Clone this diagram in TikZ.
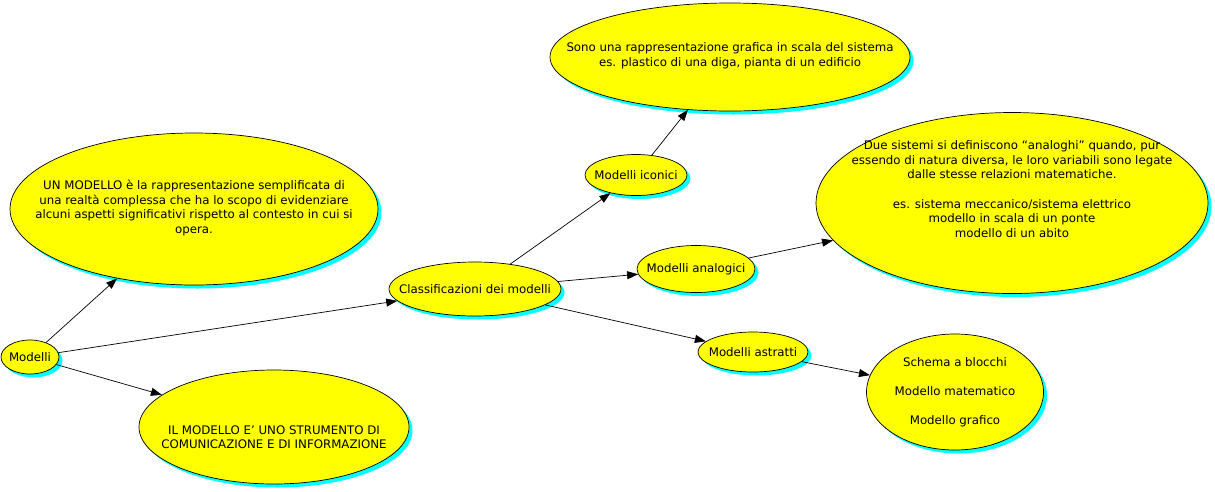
\documentclass[tikz,border=0pt]{standalone}
\usepackage{fontspec}
\setmainfont{DejaVu Sans}
\usetikzlibrary{shapes.geometric,shadows,arrows.meta}
\definecolor{ybub}{RGB}{255,255,0}
\definecolor{cshad}{RGB}{0,255,255}
\begin{document}
\begin{tikzpicture}[x=1pt,y=-1pt,
  bub/.style={ellipse, draw=black, line width=0.7pt, fill=ybub, inner sep=0pt,
    drop shadow={fill=cshad, opacity=1, shadow xshift=3.5pt, shadow yshift=-3.5pt}},
  txt/.style={align=center, inner sep=0pt, font=\fontsize{11.8}{14.6}\selectfont},
  conn/.style={-{Triangle[length=11pt,width=8pt]}, line width=0.7pt}]
\useasboundingbox (0,0) rectangle (1215,491);

\node[bub, minimum width=58pt, minimum height=34pt, label={[txt]center:Modelli}] (mod) at (30,357) {};
\node[bub, minimum width=368pt, minimum height=152pt,
  label={[txt, yshift=1pt]center:{UN MODELLO è la rappresentazione semplificata di\\una realtà complessa che ha lo scopo di evidenziare\\alcuni aspetti significativi rispetto al contesto in cui si\\opera.}}] (un) at (194,209) {};
\node[bub, minimum width=270pt, minimum height=114pt,
  label={[txt, yshift=-10pt]center:{IL MODELLO E’ UNO STRUMENTO DI\\COMUNICAZIONE E DI INFORMAZIONE}}] (il) at (274,427) {};
\node[bub, minimum width=172pt, minimum height=54pt, label={[txt]center:Classificazioni dei modelli}] (cl) at (475,289) {};
\node[bub, minimum width=102pt, minimum height=41pt, label={[txt]center:Modelli iconici}] (ic) at (636,175) {};
\node[bub, minimum width=360pt, minimum height=108pt,
  label={[txt, yshift=1.5pt]center:{Sono una rappresentazione grafica in scala del sistema\\es. plastico di una diga, pianta di un edificio}}] (so) at (730,57) {};
\node[bub, minimum width=118pt, minimum height=47pt, label={[txt]center:Modelli analogici}] (an) at (696,269) {};
\node[bub, minimum width=392pt, minimum height=181pt,
  label={[txt, yshift=14pt]center:{Due sistemi si definiscono “analoghi” quando, pur\\essendo di natura diversa, le loro variabili sono legate\\dalle stesse relazioni matematiche.\\[14.6pt]es. sistema meccanico/sistema elettrico\\modello in scala di un ponte\\modello di un abito}}] (due) at (1012,203) {};
\node[bub, minimum width=110pt, minimum height=40pt, label={[txt]center:Modelli astratti}] (as) at (753,352) {};
\node[bub, minimum width=177pt, minimum height=116pt,
  label={[txt]center:{Schema a blocchi\\[14.6pt]Modello matematico\\[14.6pt]Modello grafico}}] (sc) at (955,392) {};

\draw[conn] (mod) -- (un);
\draw[conn] (mod) -- (cl);
\draw[conn] (mod) -- (il);
\draw[conn] (cl) -- (ic);
\draw[conn] (cl) -- (an);
\draw[conn] (cl) -- (as);
\draw[conn] (ic) -- (so);
\draw[conn] (an) -- (due);
\draw[conn] (as) -- (sc);
\end{tikzpicture}
\end{document}
